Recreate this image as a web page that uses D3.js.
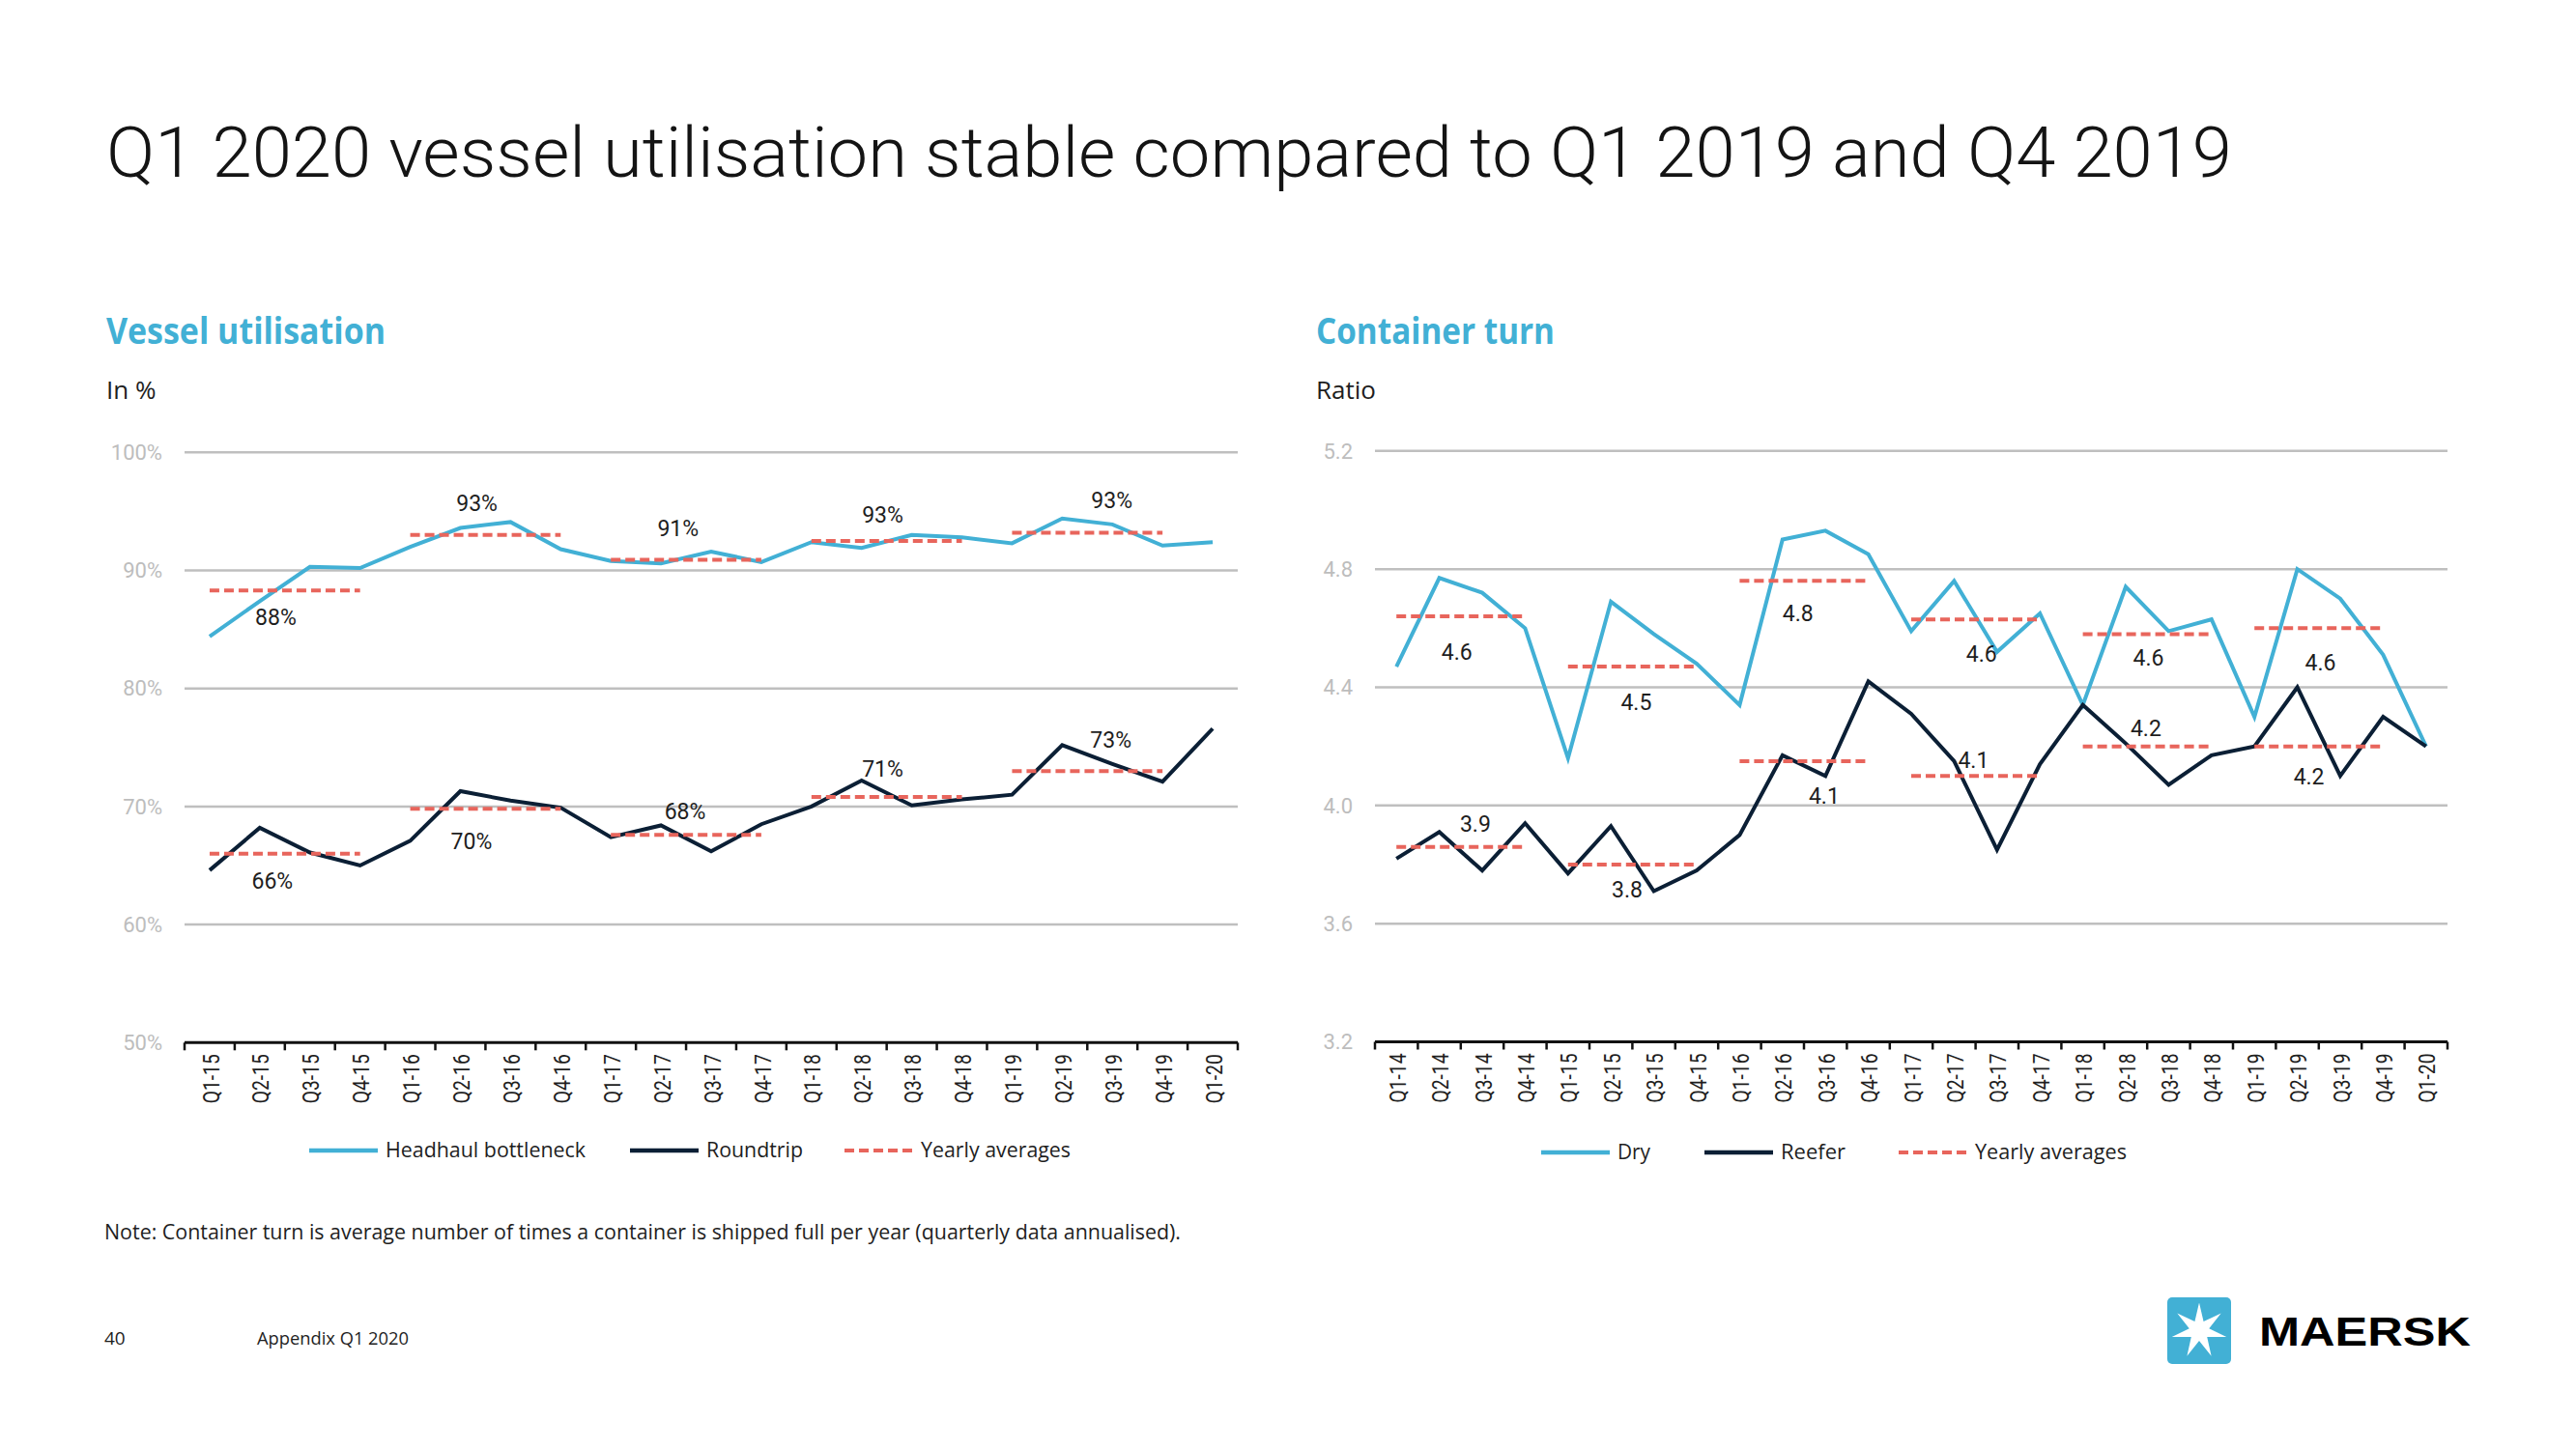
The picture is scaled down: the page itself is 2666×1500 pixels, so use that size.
<!DOCTYPE html>
<html><head><meta charset="utf-8">
<script src="https://cdn.jsdelivr.net/npm/d3@7"></script>
<style>body{margin:0;background:#fff;} svg{display:block;}</style>
</head><body>
<svg id="c" width="2666" height="1500"></svg>
<script>
// ---------------- DATA ----------------
const utilCategories = ["Q1-15","Q2-15","Q3-15","Q4-15","Q1-16","Q2-16","Q3-16","Q4-16","Q1-17","Q2-17","Q3-17","Q4-17","Q1-18","Q2-18","Q3-18","Q4-18","Q1-19","Q2-19","Q3-19","Q4-19","Q1-20"];
const headhaul  = [84.4,87.4,90.3,90.2,92.0,93.6,94.1,91.8,90.8,90.6,91.6,90.7,92.4,91.9,93.0,92.8,92.3,94.4,93.9,92.1,92.4];
const roundtrip = [64.6,68.2,66.1,65.0,67.1,71.3,70.5,69.9,67.4,68.4,66.2,68.5,70.0,72.2,70.1,70.6,71.0,75.2,73.6,72.1,76.6];
const utilYears = ["15","16","17","18","19"];
const headhaulAvg = [88.3,93.0,90.9,92.5,93.2];
const headhaulAvgLabels = ["88%","93%","91%","93%","93%"];
const roundtripAvg = [66.0,69.8,67.6,70.8,73.0];
const roundtripAvgLabels = ["66%","70%","68%","71%","73%"];
const utilTicks = [50,60,70,80,90,100];
const utilTickLabels = ["50%","60%","70%","80%","90%","100%"];

const turnCategories = ["Q1-14","Q2-14","Q3-14","Q4-14","Q1-15","Q2-15","Q3-15","Q4-15","Q1-16","Q2-16","Q3-16","Q4-16","Q1-17","Q2-17","Q3-17","Q4-17","Q1-18","Q2-18","Q3-18","Q4-18","Q1-19","Q2-19","Q3-19","Q4-19","Q1-20"];
const dry    = [4.47,4.77,4.72,4.60,4.16,4.69,4.58,4.48,4.34,4.90,4.93,4.85,4.59,4.76,4.52,4.65,4.34,4.74,4.59,4.63,4.30,4.80,4.70,4.51,4.20];
const reefer = [3.82,3.91,3.78,3.94,3.77,3.93,3.71,3.78,3.90,4.17,4.10,4.42,4.31,4.15,3.85,4.14,4.34,4.21,4.07,4.17,4.20,4.40,4.10,4.30,4.20];
const turnYears = ["14","15","16","17","18","19"];
const dryAvg = [4.64,4.47,4.76,4.63,4.58,4.60];
const dryAvgLabels = ["4.6","4.5","4.8","4.6","4.6","4.6"];
const reeferAvg = [3.86,3.80,4.15,4.10,4.20,4.20];
const reeferAvgLabels = ["3.9","3.8","4.1","4.1","4.2","4.2"];
const turnTicks = [3.2,3.6,4.0,4.4,4.8,5.2];
const turnTickLabels = ["3.2","3.6","4.0","4.4","4.8","5.2"];

// ---------------- LAYOUT / STYLE ----------------
const C = { blue:"#42B0D5", navy:"#0B1F35", red:"#E8655C", grid:"#BFBFBF", tick:"#BDBDBD", text:"#1E1E1E" };
const FONT = "Roboto, 'Open Sans', sans-serif";
// label placement: position inside the year (in bands from the year's first band) and vertical offset from the average line
const labelPos = {
  headhaul:  {at:[1.82,1.83,1.84,1.92,2.49], dy:[28,-33,-33,-27,-33]},
  roundtrip: {at:[1.75,1.72,1.98,1.92,2.47], dy:[28,34,-24,-29,-32]},
  dry:       {at:[1.91,2.09,1.86,2.14,2.03,2.04], dy:[37,37,34,36,25,36]},
  reefer:    {at:[2.34,1.88,2.47,1.95,1.97,1.77], dy:[-24,26,36,-16,-19,31]}
};

const svg = d3.select("#c");
svg.append("rect").attr("width",2666).attr("height",1500).attr("fill","#fff");

function fit(sel, w){ return sel.attr("textLength", w).attr("lengthAdjust","spacingAndGlyphs"); }

// Title
fit(svg.append("text").attr("x",110).attr("y",183).attr("font-family",FONT).attr("font-weight",300)
  .attr("font-size",72).attr("fill","#141414").text("Q1 2020 vessel utilisation stable compared to Q1 2019 and Q4 2019"), 2200);

function panel(o){
  const g = svg.append("g");
  // headings
  fit(g.append("text").attr("x",o.hx).attr("y",356).attr("font-family","'Open Sans', sans-serif").attr("font-weight",700)
    .attr("font-size",37).attr("fill",C.blue).text(o.heading), o.headingW);
  g.append("text").attr("x",o.hx).attr("y",413).attr("font-family","'Open Sans', sans-serif")
    .attr("font-size",26).attr("fill",C.text).text(o.unit);

  const x = d3.scaleBand().domain(o.cats).range([o.x0,o.x1]).paddingInner(0).paddingOuter(0);
  const y = d3.scaleLinear().domain([o.ticks[0], o.ticks[o.ticks.length-1]]).range([o.yb, o.yt]);
  const cx = c => x(c) + x.bandwidth()/2;

  // gridlines
  const gridTicks = o.ticks.slice(1);
  g.append("g").selectAll("line").data(gridTicks).join("line")
    .attr("x1",o.x0).attr("x2",o.x1).attr("y1",d=>y(d)).attr("y2",d=>y(d))
    .attr("stroke",C.grid).attr("stroke-width",2.5);
  // y tick labels
  g.append("g").selectAll("text").data(o.ticks).join("text")
    .attr("x",o.x0-23).attr("y",d=>y(d)).attr("dy","0.35em").attr("text-anchor","end")
    .attr("font-family",FONT).attr("font-size",22).attr("fill",C.tick)
    .text((d,i)=>o.tickLabels[i]);
  // x axis
  g.append("line").attr("x1",o.x0).attr("x2",o.x1).attr("y1",y(o.ticks[0])).attr("y2",y(o.ticks[0]))
    .attr("stroke","#111").attr("stroke-width",3);
  const bounds = o.cats.map(c=>x(c)).concat([o.x1]);
  g.append("g").selectAll("line").data(bounds).join("line")
    .attr("x1",d=>d).attr("x2",d=>d).attr("y1",y(o.ticks[0])).attr("y2",y(o.ticks[0])+8)
    .attr("stroke","#111").attr("stroke-width",2.5);
  g.append("g").selectAll("text").data(o.cats).join("text")
    .attr("transform",d=>`translate(${cx(d)+1},${y(o.ticks[0])+12}) rotate(-90)`)
    .attr("text-anchor","end").attr("dy","0.36em")
    .attr("font-family",FONT).attr("font-size",24).attr("fill",C.text)
    .text(d=>d).call(s=>fit(s,51));

  // series lines
  const line = d3.line().x((d,i)=>cx(o.cats[i])).y(d=>y(d)).curve(d3.curveLinear);
  o.series.forEach(s=>{
    g.append("path").datum(s.values).attr("d",line).attr("fill","none")
      .attr("stroke",s.color).attr("stroke-width",4).attr("stroke-linejoin","miter");
  });

  // yearly averages + labels
  o.series.forEach(s=>{
    o.years.forEach((yr,k)=>{
      const idx = o.cats.map((c,i)=>c.endsWith("-"+yr)?i:-1).filter(i=>i>=0);
      const xa = cx(o.cats[idx[0]]), xb = cx(o.cats[idx[idx.length-1]]);
      g.append("line").attr("x1",xa).attr("x2",xb).attr("y1",y(s.avg[k])).attr("y2",y(s.avg[k]))
        .attr("stroke",C.red).attr("stroke-width",4).attr("stroke-dasharray","10,5");
      const lp = labelPos[s.key];
      const lx = x(o.cats[idx[0]]) + lp.at[k]*x.bandwidth();
      g.append("text").attr("x",lx).attr("y",y(s.avg[k])+lp.dy[k]).attr("dy","0.35em")
        .attr("text-anchor","middle").attr("font-family",FONT).attr("font-size",23).attr("fill",C.text)
        .text(s.avgLabels[k]);
    });
  });

  // legend
  const lg = g.append("g");
  o.legend.forEach(l=>{
    lg.append("line").attr("x1",l.x).attr("x2",l.x+71).attr("y1",o.ly).attr("y2",o.ly)
      .attr("stroke",l.color).attr("stroke-width",l.dash?4:4.5).attr("stroke-dasharray",l.dash?"10,5":null);
    fit(lg.append("text").attr("x",l.x+79).attr("y",o.ly).attr("dy","0.35em")
      .attr("font-family","'Open Sans', sans-serif").attr("font-size",21).attr("fill",C.text).text(l.text), l.w);
  });
}

panel({
  heading:"Vessel utilisation", headingW:289, unit:"In %", hx:110,
  cats:utilCategories, x0:191, x1:1281, yb:1079.3, yt:468.3,
  ticks:utilTicks, tickLabels:utilTickLabels, years:utilYears,
  series:[
    {key:"headhaul", values:headhaul, color:C.blue, avg:headhaulAvg, avgLabels:headhaulAvgLabels},
    {key:"roundtrip", values:roundtrip, color:C.navy, avg:roundtripAvg, avgLabels:roundtripAvgLabels}
  ],
  ly:1191,
  legend:[
    {x:320, color:C.blue, text:"Headhaul bottleneck", w:207},
    {x:652, color:C.navy, text:"Roundtrip", w:100},
    {x:874, color:C.red, dash:true, text:"Yearly averages", w:155}
  ]
});

panel({
  heading:"Container turn", headingW:247, unit:"Ratio", hx:1362,
  cats:turnCategories, x0:1423, x1:2533, yb:1078.5, yt:466.8,
  ticks:turnTicks, tickLabels:turnTickLabels, years:turnYears,
  series:[
    {key:"dry", values:dry, color:C.blue, avg:dryAvg, avgLabels:dryAvgLabels},
    {key:"reefer", values:reefer, color:C.navy, avg:reeferAvg, avgLabels:reeferAvgLabels}
  ],
  ly:1193,
  legend:[
    {x:1595, color:C.blue, text:"Dry", w:34},
    {x:1764, color:C.navy, text:"Reefer", w:67},
    {x:1965, color:C.red, dash:true, text:"Yearly averages", w:157}
  ]
});

// Note and footer
fit(svg.append("text").attr("x",108).attr("y",1283).attr("font-family","'Open Sans', sans-serif").attr("font-size",21)
  .attr("fill",C.text).text("Note: Container turn is average number of times a container is shipped full per year (quarterly data annualised)."), 1114);
svg.append("text").attr("x",108).attr("y",1392).attr("font-family","'Open Sans', sans-serif").attr("font-size",19)
  .attr("fill",C.text).text("40");
fit(svg.append("text").attr("x",266).attr("y",1392).attr("font-family","'Open Sans', sans-serif").attr("font-size",19)
  .attr("fill",C.text).text("Appendix Q1 2020"), 157);

// Logo
const logo = svg.append("g");
logo.append("rect").attr("x",2243).attr("y",1343).attr("width",66).attr("height",69).attr("rx",5).attr("fill",C.blue);
const starPts = d3.range(14).map(i=>{
  const r = i%2===0 ? 29 : 10.5;
  const a = -Math.PI/2 + i*Math.PI/7;
  return [2276 + r*Math.cos(a), 1377.5 + r*Math.sin(a)];
});
logo.append("polygon").attr("points",starPts.map(p=>p.join(",")).join(" ")).attr("fill","#fff");
fit(logo.append("text").attr("x",2338).attr("y",1393).attr("font-family","'Liberation Sans', Arial, sans-serif")
  .attr("font-weight",700).attr("font-size",43).attr("fill","#000").text("MAERSK"), 219);
</script>
</body></html>
